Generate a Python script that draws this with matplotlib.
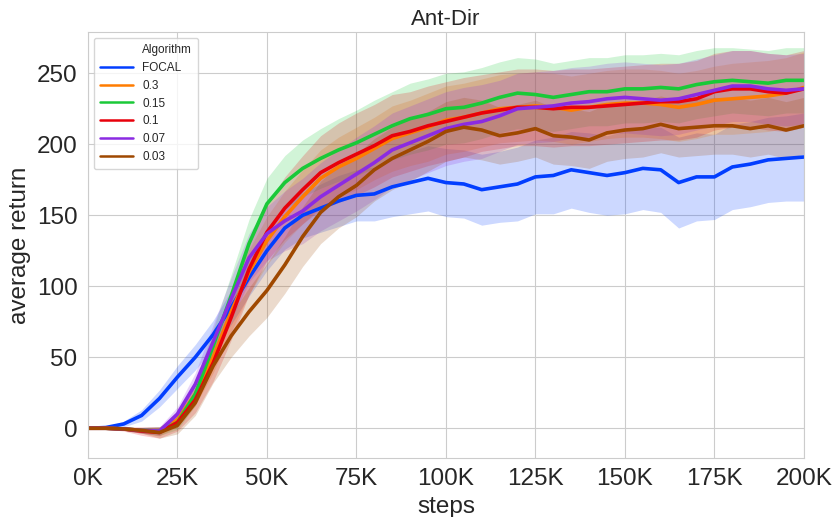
import numpy as np
import matplotlib
matplotlib.use('Agg')
from matplotlib import pyplot as plt
from matplotlib.lines import Line2D
import seaborn as sns

# steps in K (every 5K)
steps = list(range(0, 201, 5))

focal_mean = [0, 0.5, 3, 9, 21, 36, 50, 66, 85, 106, 125, 141, 150, 155, 160, 164, 165, 170, 173, 176,
              173, 172, 168, 170, 172, 177, 178, 182, 180, 178, 180, 183, 182, 173, 177, 177, 184, 186, 189, 190, 191]
focal_spread = [0, 0.5, 2, 4, 6, 8, 9, 10, 12, 13, 14, 15, 16, 17, 18, 18, 19, 21, 22, 23,
                24, 24, 25, 25, 26, 26, 27, 27, 28, 28, 29, 29, 30, 32, 31, 30, 30, 30, 30, 30, 31]

g03_mean = [0, 0, -0.5, -1.5, -2.5, 6, 24, 50, 82, 110, 132, 149, 163, 176, 184, 190, 197, 204, 208, 212,
            217, 219, 222, 225, 226, 227, 226, 224, 226, 228, 229, 229, 228, 226, 228, 231, 232, 233, 234, 236, 240]
g03_spread = [0, 0.5, 1, 2, 3, 5, 8, 11, 14, 16, 17, 18, 19, 20, 21, 22, 22, 23, 23, 24,
              24, 24, 24, 24, 24, 24, 24, 24, 24, 24, 24, 24, 24, 24, 24, 24, 25, 25, 25, 25, 25]

g015_mean = [0, 0, -0.5, -1.5, -2, 4, 24, 58, 93, 130, 158, 173, 183, 190, 196, 201, 207, 213, 218, 221,
             225, 226, 229, 233, 236, 235, 233, 235, 237, 237, 239, 239, 240, 239, 242, 244, 245, 244, 243, 245, 245]
g015_spread = [0, 0.5, 1, 2, 3, 5, 8, 12, 15, 17, 18, 19, 20, 21, 22, 23, 24, 24, 25, 25,
               25, 25, 25, 25, 25, 25, 24, 24, 24, 24, 24, 24, 24, 24, 24, 24, 23, 23, 23, 23, 23]

g01_mean = [0, 0, -0.5, -2, -3, 4, 20, 46, 78, 112, 138, 155, 168, 180, 187, 193, 199, 206, 209, 213,
            216, 219, 222, 224, 226, 226, 225, 226, 226, 227, 228, 229, 230, 230, 232, 237, 239, 239, 237, 236, 239]
g01_spread = [0, 0.5, 1.5, 3, 4, 6, 9, 13, 16, 18, 20, 22, 24, 26, 28, 29, 29, 29, 28, 28,
              28, 28, 27, 27, 27, 27, 27, 27, 27, 27, 27, 27, 27, 27, 27, 27, 27, 27, 27, 27, 27]

g007_mean = [0, 0, -0.5, -1.5, -2, 10, 31, 61, 91, 120, 137, 146, 153, 163, 171, 179, 187, 196, 201, 206,
             211, 214, 216, 220, 225, 226, 227, 229, 230, 232, 233, 232, 231, 232, 235, 238, 241, 241, 239, 238, 239]
g007_spread = [0, 0.5, 1, 2, 3, 5, 8, 12, 15, 17, 19, 21, 23, 24, 25, 26, 26, 26, 26, 26,
               26, 26, 26, 25, 25, 25, 25, 25, 25, 25, 25, 25, 25, 25, 25, 25, 25, 25, 25, 25, 25]

g003_mean = [0, 0, -0.5, -1.5, -3, 2, 18, 44, 65, 82, 97, 115, 135, 152, 163, 171, 182, 190, 196, 202,
             209, 212, 210, 206, 208, 211, 206, 205, 203, 208, 210, 211, 214, 211, 212, 213, 213, 211, 213, 210, 213]
g003_spread = [0, 0.5, 1, 2, 4, 6, 9, 12, 15, 17, 19, 20, 21, 22, 22, 22, 22, 22, 22, 21,
               21, 21, 21, 20, 20, 20, 20, 20, 20, 20, 20, 20, 20, 20, 20, 20, 20, 20, 20, 20, 20]

labels = ['FOCAL', '0.3', '0.15', '0.1', '0.07', '0.03']
means = [focal_mean, g03_mean, g015_mean, g01_mean, g007_mean, g003_mean]
spreads = [focal_spread, g03_spread, g015_spread, g01_spread, g007_spread, g003_spread]

sns.set_style('whitegrid')
plt.rcParams['font.family'] = ['Liberation Sans', 'DejaVu Sans']
colors = sns.color_palette('bright', 6)

fig = plt.figure(figsize=(8.37, 5.17), dpi=100)
ax = fig.add_axes([0.105, 0.114, 0.8555, 0.824])

x = np.array(steps) * 1000
handles = [Line2D([], [], color='none')]
for lab, m, s, c in zip(labels, means, spreads, colors):
    m = np.array(m, dtype=float)
    s = np.array(s, dtype=float)
    ax.fill_between(x, m - s, m + s, color=c, alpha=0.2, linewidth=0)
    ax.plot(x, m, color=c, lw=2.6, label=lab)
    handles.append(Line2D([], [], color=c, lw=1.8))

ax.set_xlim(0, 200000)
ax.set_ylim(-21, 279)
ax.set_xticks(np.arange(0, 200001, 25000))
ax.set_xticklabels(['{}K'.format(int(v / 1000)) for v in np.arange(0, 200001, 25000)])
ax.set_yticks([0, 50, 100, 150, 200, 250])
ax.tick_params(axis='both', labelsize=17.5, colors='#262626', pad=4)
ax.set_xlabel('steps', fontsize=17.5, labelpad=4)
ax.set_ylabel('average return', fontsize=17.5, labelpad=4)
ax.set_title('Ant-Dir', fontsize=16, pad=5)

ax.legend(handles, ['Algorithm'] + labels, loc='upper left', fontsize=8.5,
          handlelength=2.8, borderpad=0.5, labelspacing=0.5, frameon=True)

fig.savefig('out.png', dpi=100)
